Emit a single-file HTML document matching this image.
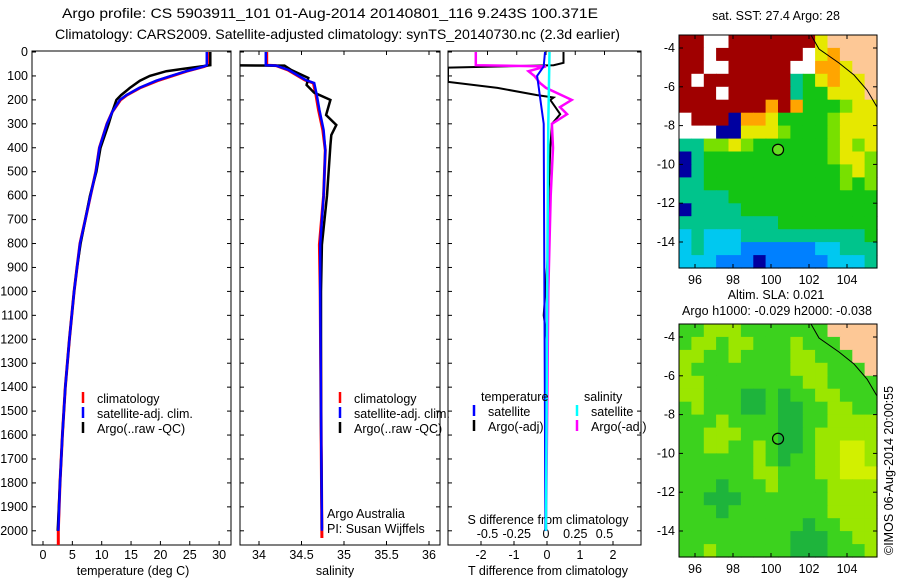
<!DOCTYPE html>
<html><head><meta charset="utf-8"><style>
body{margin:0;background:#fff}
svg{display:block;font-family:"Liberation Sans",sans-serif;font-size:12.5px}
</style></head><body>
<svg id="s" width="900" height="580" xmlns="http://www.w3.org/2000/svg">
<text x="62" y="18" textLength="536" lengthAdjust="spacingAndGlyphs" style="font-size:14px">Argo profile: CS 5903911_101 01-Aug-2014 20140801_116 9.243S 100.371E</text>
<text x="55" y="39" textLength="565" lengthAdjust="spacingAndGlyphs" style="font-size:14px">Climatology: CARS2009. Satellite-adjusted climatology: synTS_20140730.nc (2.3d earlier)</text>
<text x="776" y="20" text-anchor="middle">sat. SST: 27.4 Argo: 28</text>
<text x="776" y="299" text-anchor="middle">Altim. SLA: 0.021</text>
<text x="777" y="315" text-anchor="middle" textLength="190">Argo h1000: -0.029 h2000: -0.038</text>
<text transform="translate(893,555) rotate(-90)">©IMOS 06-Aug-2014 20:00:55</text>
<g id="g"></g>
</svg>
<script>
// ---- profile data ----
const tempDepth=[0,55,60,70,80,100,120,150,180,200,250,300,400,500,600,700,800,900,1000,1200,1400,1600,1800,2000,2060];
const tempClim=[28,28,27.5,26,24.5,22,19.5,16.5,14.3,13.2,11.8,10.9,9.6,9.0,8.1,7.2,6.3,5.8,5.3,4.5,3.8,3.3,2.9,2.6,2.6];
const tempSatDepth=[0,55,60,70,80,100,120,150,180,200,250,300,400,500,600,700,800,900,1000,1200,1400,1600,1800,2000];
const tempSat=[27.9,27.9,27.4,26,24.4,21.8,19.3,16.4,14.2,13.1,11.8,10.9,9.6,9.0,8.1,7.2,6.3,5.8,5.3,4.5,3.8,3.3,2.9,2.6];
const tempArgo=[28.5,28.5,27,24,21,18.2,16.5,14.8,13.3,12.5,11.8,11.2,9.8,9.1,8.0,7.2,6.4,5.8,5.3,4.5,3.8,3.3,2.9,2.5];
const salDepth=[0,55,57,75,117,130,180,242,326,410,600,805,1000,1500,2030];
const salClim=[34.09,34.09,34.2,34.34,34.54,34.64,34.67,34.7,34.75,34.78,34.76,34.71,34.72,34.73,34.74];
const salSatDepth=[0,55,57,75,117,130,180,242,326,410,600,805,1000,1500,2000];
const salSat=[34.08,34.08,34.2,34.35,34.55,34.65,34.68,34.71,34.76,34.78,34.76,34.72,34.72,34.73,34.74];
const salArgoDepth=[0,55,57,75,108,138,170,200,263,305,347,390,600,805,1000,1500,1990];
const salArgo=[33.4,33.4,34.3,34.38,34.58,34.56,34.65,34.84,34.79,34.91,34.85,34.84,34.8,34.74,34.73,34.73,34.74];
const dTDepth=[0,45,55,65,125,150,180,190,200,230,260,300,400,600,800,1000,1100,1200,1500,2000];
const dTArgo=[0.5,0.5,0.2,-3,-3,-1.5,-0.3,0.2,0.1,0.25,0.4,0.15,0.1,0.05,0.05,-0.05,-0.1,0,0,-0.05];
const dTSatDepth=[0,60,100,150,200,300,2000];
const dTSat=[-0.06,-0.1,-0.3,-0.25,-0.2,-0.1,-0.05];
const dSDepth=[0,55,60,80,100,130,150,200,230,260,300,400,600,800,1000,1500,2000];
const dSArgo=[-0.6,-0.6,0,-0.15,-0.1,-0.05,0,0.22,0.12,0.18,0.05,0.06,0.04,0.03,0.02,0.01,0.0];
const dSSatDepth=[0,300,1000,2000];
const dSSat=[0.03,0.02,0.01,0.0];
const depthTicks=[0,100,200,300,400,500,600,700,800,900,1000,1100,1200,1300,1400,1500,1600,1700,1800,1900,2000];
const tempTicks=[0,5,10,15,20,25,30];
const salTicks=[34,34.5,35,35.5,36];
const dTTicks=[-2,-1,0,1,2];
const dSTicks=[-0.5,-0.25,0,0.25,0.5];
const lonTicks=[96,98,100,102,104];
const latTicks=[-4,-6,-8,-10,-12,-14];
const sstGrid=["RRWWRRRRRRRYLLLL","RRWRRRRRRRWYOLLL","RRWWRRRRRWWOOYLL","RWRRRRRRRCGYOYYL","RRRWRRRRRCGGYYYL","RRRRRRROROGGGgYY","WRRRDOOYGGGGgYYY","WWWDDYYYgGGGgYYY","CCggYgGGGGGGgYgY","DCGGGGGGGGGGgYYg","DCGGGGGGGGGGGgYg","CCGGGGGGGGGGGgGg","CCCCGGGGGGGGGGGG","DCCCCGGGGGGGGGGG","CCCCCCCCGGGGGGGG","cCcccCCCCCCCCCCG","cCcccBBBBBBccCCC","cccBBBDBBBBBcccC"];
const slaGrid=["GGyyyGGGGGGGLLLL","GyyGyyGGGyGGGLLL","yyGGyGGGGyyGGGLL","yGGGGGGGGyyyGGGL","yyGGGGGGGGyyGGGG","yyGGGddGdGGyyGGG","GyGGGddGddGGyyGG","GGGyGGGGddGGyyyy","GGyyyGGGddGyyyyy","GGyyGGyGddGyyYYy","GGGGGGyGdGGyyYYy","GGGGGGyyGGGyyYYY","GGGdGGGyGGGGyyyy","GGdddGGGGGGGyyyy","GGGdGGGGGGGGyyyy","GGGGGGGGGGdGGyyy","GGGGGGGGGdddGGyy","GGyGGGGGGdddGGGy"];
const floatLon=100.371, floatLat=-9.243;

const NS='http://www.w3.org/2000/svg';
let G=document.getElementById('g');
const ROOT=G;
const PB=545;
function el(t,a,p){const e=document.createElementNS(NS,t);for(const k in a)e.setAttribute(k,a[k]);(p||G).appendChild(e);return e;}
const yD=d=>52+d*0.2394;
function panel(x0,x1,name){const r=el('rect',{x:x0,y:51,width:x1-x0,height:PB-51,fill:'none',stroke:'#000','stroke-width':1});


depthTicks.forEach(d=>{el('line',{x1:x0,x2:x0+4,y1:yD(d),y2:yD(d),stroke:'#000'});el('line',{x1:x1-4,x2:x1,y1:yD(d),y2:yD(d),stroke:'#000'});});}
function line(xs,ds,fx,col,w,name){const p=el('polyline',{points:xs.map((v,i)=>fx(v).toFixed(1)+','+yD(ds[i]).toFixed(1)).join(' '),fill:'none',stroke:col,'stroke-width':w});

}
function txt(x,y,s,name,anchor){const t=el('text',{x:x,y:y,'text-anchor':anchor||'start'});t.textContent=s;

return t;}
const defs=el('defs',{});
[[32,231],[240,440],[448,641]].forEach((p,i)=>{const c=el('clipPath',{id:'c'+i},defs);el('rect',{x:p[0],y:51,width:p[1]-p[0],height:PB-51},c);});

// panel 1 temperature
const xT=v=>43+v*5.87;
panel(32,231,'temperature-panel');
depthTicks.forEach(d=>txt(28,yD(d)+4,String(d),'depth-tick-label','end'));
tempTicks.forEach(v=>{el('line',{x1:xT(v),x2:xT(v),y1:PB,y2:PB-4,stroke:'#000'});txt(xT(v),559,String(v),'temp-tick-label','middle');});
txt(133,575,'temperature (deg C)','temperature-axis-title','middle');
G=el('g',{'clip-path':'url(#c0)'});
line(tempClim,tempDepth,xT,'#f00',3,'temp-climatology-line');
line(tempArgo,tempSatDepth,xT,'#000',2.5,'temp-argo-line');
line(tempSat,tempSatDepth,xT,'#00f',2.5,'temp-satellite-line');
G=ROOT;
function legend(x,y,items,prefix){items.forEach((it,i)=>{el('line',{x1:x,x2:x,y1:y+i*15-11,y2:y+i*15,stroke:it[1],'stroke-width':2.5});txt(x+14,y+i*15,it[0],prefix+'-legend-entry');});}
legend(83,403,[['climatology','#f00'],['satellite-adj. clim.','#00f'],['Argo(..raw -QC)','#000']],'temp');

// panel 2 salinity
const xS=v=>259+(v-34)*85;
panel(240,440,'salinity-panel');
salTicks.forEach(v=>{el('line',{x1:xS(v),x2:xS(v),y1:PB,y2:PB-4,stroke:'#000'});el('line',{x1:xS(v),x2:xS(v),y1:51,y2:55,stroke:'#000'});txt(xS(v),559,String(v),'sal-tick-label','middle');});
txt(335,575,'salinity','salinity-axis-title','middle');
G=el('g',{'clip-path':'url(#c1)'});
line(salClim,salDepth,xS,'#f00',3,'sal-climatology-line');
line(salArgo,salArgoDepth,xS,'#000',2.5,'sal-argo-line');
line(salSat,salSatDepth,xS,'#00f',2.5,'sal-satellite-line');
G=ROOT;
legend(340,403,[['climatology','#f00'],['satellite-adj. clim.','#00f'],['Argo(..raw -QC)','#000']],'sal');
txt(327,518,'Argo Australia','credit-argo-australia');
txt(327,533,'PI: Susan Wijffels','credit-pi');

// panel 3 differences
const xdT=v=>547+v*33, xdS=v=>546+v*117;
panel(448,641,'difference-panel');
dTTicks.forEach(v=>{el('line',{x1:xdT(v),x2:xdT(v),y1:PB,y2:PB-4,stroke:'#000'});txt(xdT(v),559,String(v),'tdiff-tick-label','middle');});
dSTicks.forEach(v=>{el('line',{x1:xdS(v),x2:xdS(v),y1:51,y2:55,stroke:'#000'});txt(xdS(v),538,String(v),'sdiff-tick-label','middle');});
txt(548,524,'S difference from climatology','sdiff-axis-title','middle');
txt(548,575,'T difference from climatology','tdiff-axis-title','middle');
G=el('g',{'clip-path':'url(#c2)'});
line(dTArgo,dTDepth,xdT,'#000',2,'tdiff-argo-line');
line(dSArgo,dSDepth,xdS,'#f0f',2.5,'sdiff-argo-line');
line(dTSat,dTSatDepth,xdT,'#00f',2,'tdiff-satellite-line');
line(dSSat,dSSatDepth,xdS,'#0ff',2.5,'sdiff-satellite-line');
G=ROOT;
txt(481,401,'temperature','diff-legend-temperature');
txt(584,401,'salinity','diff-legend-salinity');
legend(474,416,[['satellite','#00f'],['Argo(-adj)','#000']],'tdiff');
legend(577,416,[['satellite','#0ff'],['Argo(-adj)','#f0f']],'sdiff');

// maps
const cols={R:'#a00000',W:'#ffffff',L:'#fdc896',O:'#ffa500',Y:'#e6e800',G:'#14c414',g:'#78e000',C:'#00c48c',c:'#00c8f0',B:'#0080ff',D:'#0000a0',y:'#9be600',d:'#1eb43c'};
const colsSla={G:'#3cd21e',y:'#9be600',Y:'#d2f000',d:'#1eb43c',L:'#fdc896'};
function map(y0,grid,pal,name,fillCircle){
 const x0=679,w=198,h=233;
 const g=el('g',{});
 const cw=w/grid[0].length,ch=h/grid.length;
 grid.forEach((row,r)=>[...row].forEach((k,c)=>el('rect',{x:(x0+c*cw).toFixed(1),y:(y0+r*ch).toFixed(1),width:(cw+0.6).toFixed(1),height:(ch+0.6).toFixed(1),fill:pal[k]},g)));
 el('polyline',{points:`${x0+132},${y0} ${x0+140},${y0+14} ${x0+160},${y0+28} ${x0+175},${y0+40} ${x0+188},${y0+55} ${x0+198},${y0+72}`,fill:'none',stroke:'#000','stroke-width':1},g);
 el('rect',{x:x0,y:y0,width:w,height:h,fill:'none',stroke:'#000'},g);
 const lx=v=>695+(v-96)*19, ly=v=>y0+13+(-4-v)*19.4;
 lonTicks.forEach(v=>{el('line',{x1:lx(v),x2:lx(v),y1:y0+h,y2:y0+h-4,stroke:'#000'},g);el('line',{x1:lx(v),x2:lx(v),y1:y0,y2:y0+4,stroke:'#000'},g);txt(lx(v),y0+h+16,String(v),'lon-tick-label','middle');});
 latTicks.forEach(v=>{el('line',{x1:x0,x2:x0+4,y1:ly(v),y2:ly(v),stroke:'#000'},g);el('line',{x1:x0+w-4,x2:x0+w,y1:ly(v),y2:ly(v),stroke:'#000'},g);txt(x0-4,ly(v)+4,String(v),'lat-tick-label','end');});
 const c=el('circle',{cx:lx(floatLon),cy:ly(floatLat),r:5.5,fill:fillCircle?'#66dd22':'none',stroke:'#000','stroke-width':1.2},g);
 
 
}
map(35,sstGrid,cols,'sst-map',true);
map(324,slaGrid,colsSla,'sla-map',false);
</script>
</body></html>
